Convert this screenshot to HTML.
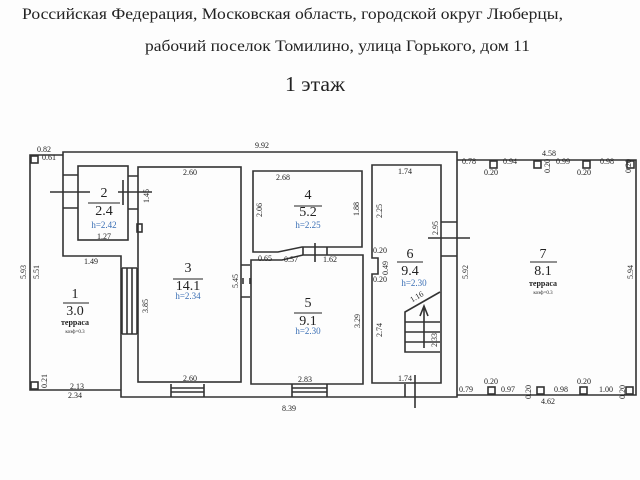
<!DOCTYPE html>
<html><head><meta charset="utf-8"><style>
html,body{margin:0;padding:0;background:#fff;}
svg{display:block}
</style></head><body>
<svg width="640" height="480" viewBox="0 0 640 480" xmlns="http://www.w3.org/2000/svg">
<rect width="640" height="480" fill="#fdfdfd"/>
<g font-family="Liberation Serif, serif" fill="#222">
<text x="22" y="19" font-size="16" textLength="541" lengthAdjust="spacingAndGlyphs">Российская Федерация, Московская область, городской округ Люберцы,</text>
<text x="145" y="51" font-size="16" textLength="385" lengthAdjust="spacingAndGlyphs">рабочий поселок Томилино, улица Горького, дом 11</text>
<text x="285" y="91" font-size="21" textLength="60" lengthAdjust="spacingAndGlyphs">1 этаж</text>
</g>
<g fill="none" stroke="#333" stroke-width="1.6">
<!-- outer house -->
<path d="M63,152 H457 V397 H121 V256 H63 Z"/>
<!-- terrace 1 -->
<path d="M63,155 H30 V390 H121"/>
<rect x="31" y="156" width="7" height="7"/>
<rect x="31" y="382" width="7" height="7"/>
<!-- room 2 -->
<rect x="78" y="166" width="50" height="74"/>
<path d="M63,175 H78 M63,208 H78 M128,176 H138 M128,209 H138"/>
<path d="M50,192 H90 M118,192 H152 M123,180 V205"/>
<rect x="137" y="224" width="5" height="8"/>
<!-- room 3 -->
<rect x="138" y="167" width="103" height="215"/>
<!-- stairs left -->
<path d="M122,268 V334 M127,268 V334 M132,268 V334 M137,268 V334 M122,268 H137 M122,334 H137"/>
<!-- bottom windows -->
<path d="M171,384 V397 M204,384 V397 M171,388 H204 M171,392 H204"/>
<path d="M292,384 V397 M327,384 V397 M292,388 H327 M292,392 H327"/>
<!-- door between 3 and 5 -->
<path d="M241,265 H250 M241,297 H250 M243,278 V284 M250,278 V284"/>
<!-- room 4 -->
<path d="M253,171 H362 V247 H302 L278,252 H253 Z"/>
<!-- room 5 -->
<path d="M251,384 V260 H282 L303,255 H363 V384 Z"/>
<path d="M303,247 V255 M327,247 V255 M315,243 V262"/>
<!-- room 6 -->
<path d="M372,165 H441 V383 H372 V274 H378 V258 H372 Z"/>
<path d="M441,222 H457 M441,256 H457 M428,238 H470"/>
<path d="M405,384 V397 M415,375 V408"/>
<!-- stair 6 -->
<path d="M440,292 L405,312 V352 H440 M405,322 H440 M405,332 H440 M405,342 H440"/>
<path d="M424,348 V308 M420,316 L424,306 L428,316"/>
<!-- terrace 7 -->
<path d="M457,160 H636 V395 H457"/>
<rect x="490" y="161" width="7" height="7"/>
<rect x="534" y="161" width="7" height="7"/>
<rect x="583" y="161" width="7" height="7"/>
<rect x="627" y="161" width="7" height="7"/>
<rect x="488" y="387" width="7" height="7"/>
<rect x="537" y="387" width="7" height="7"/>
<rect x="580" y="387" width="7" height="7"/>
<rect x="626" y="387" width="7" height="7"/>
</g>
<g font-family="Liberation Serif, serif" fill="#222" text-anchor="middle">
<g font-size="8">
<text x="44" y="152">0.82</text><text x="49" y="160">0.61</text>
<text x="262" y="148">9.92</text>
<text x="104" y="239">1.27</text>
<text x="91" y="264">1.49</text>
<text x="190" y="175">2.60</text>
<text x="190" y="381">2.60</text>
<text x="77" y="389">2.13</text><text x="75" y="398">2.34</text>
<text x="289" y="411">8.39</text>
<text x="283" y="180">2.68</text>
<text x="265" y="261">0.65</text><text x="291" y="262">0.57</text><text x="330" y="262">1.62</text>
<text x="305" y="382">2.83</text>
<text x="405" y="174">1.74</text><text x="405" y="381">1.74</text>
<text x="380" y="253">0.20</text><text x="380" y="282">0.20</text>
<text x="549" y="156">4.58</text>
<text x="469" y="164">0.78</text><text x="510" y="164">0.94</text><text x="563" y="164">0.99</text><text x="607" y="164">0.98</text>
<text x="491" y="175">0.20</text><text x="584" y="175">0.20</text>
<text x="491" y="384">0.20</text><text x="584" y="384">0.20</text>
<text x="466" y="392">0.79</text><text x="508" y="392">0.97</text><text x="561" y="392">0.98</text><text x="606" y="392">1.00</text>
<text x="548" y="404">4.62</text>
</g>
<g font-size="8">
<text transform="translate(26,272) rotate(-90)">5.93</text>
<text transform="translate(39,272) rotate(-90)">5.51</text>
<text transform="translate(47,381) rotate(-90)">0.21</text>
<text transform="translate(149,196) rotate(-90)">1.45</text>
<text transform="translate(148,306) rotate(-90)">3.85</text>
<text transform="translate(238,281) rotate(-90)">5.45</text>
<text transform="translate(262,210) rotate(-90)">2.06</text>
<text transform="translate(359,209) rotate(-90)">1.88</text>
<text transform="translate(360,321) rotate(-90)">3.29</text>
<text transform="translate(382,211) rotate(-90)">2.25</text>
<text transform="translate(382,330) rotate(-90)">2.74</text>
<text transform="translate(438,228) rotate(-90)">2.95</text>
<text transform="translate(388,268) rotate(-90)">0.49</text>
<text transform="translate(437,340) rotate(-90)">2.33</text>
<text transform="translate(468,272) rotate(-90)">5.92</text>
<text transform="translate(633,272) rotate(-90)">5.94</text>
<text transform="translate(550,166) rotate(-90)">0.20</text>
<text transform="translate(631,166) rotate(-90)">0.20</text>
<text transform="translate(531,392) rotate(-90)">0.20</text>
<text transform="translate(625,392) rotate(-90)">0.20</text>
<text transform="translate(418,299) rotate(-30)">1.16</text>
</g>
<g font-size="14">
<text x="104" y="197">2</text><text x="104" y="215">2.4</text>
<text x="188" y="272">3</text><text x="188" y="290">14.1</text>
<text x="75" y="298">1</text><text x="75" y="315">3.0</text>
<text x="308" y="199">4</text><text x="308" y="216">5.2</text>
<text x="308" y="307">5</text><text x="308" y="325">9.1</text>
<text x="410" y="258">6</text><text x="410" y="275">9.4</text>
<text x="543" y="258">7</text><text x="543" y="275">8.1</text>
</g>
<path d="M88,203 H120 M173,279 H203 M63,303 H89 M294,206 H322 M294,313 H322 M397,262 H423 M530,262 H557" stroke="#222" stroke-width="1"/>
<g font-size="9" fill="#3a6fb5">
<text x="104" y="228">h=2.42</text>
<text x="188" y="299">h=2.34</text>
<text x="308" y="228">h=2.25</text>
<text x="308" y="334">h=2.30</text>
<text x="414" y="286">h=2.30</text>
</g>
<g font-size="8" font-weight="bold">
<text x="75" y="325">терраса</text>
<text x="543" y="286">терраса</text>
</g>
<g font-size="5">
<text x="75" y="333">коэф=0.3</text>
<text x="543" y="294">коэф=0.3</text>
</g>
</g>
</svg>
</body></html>
